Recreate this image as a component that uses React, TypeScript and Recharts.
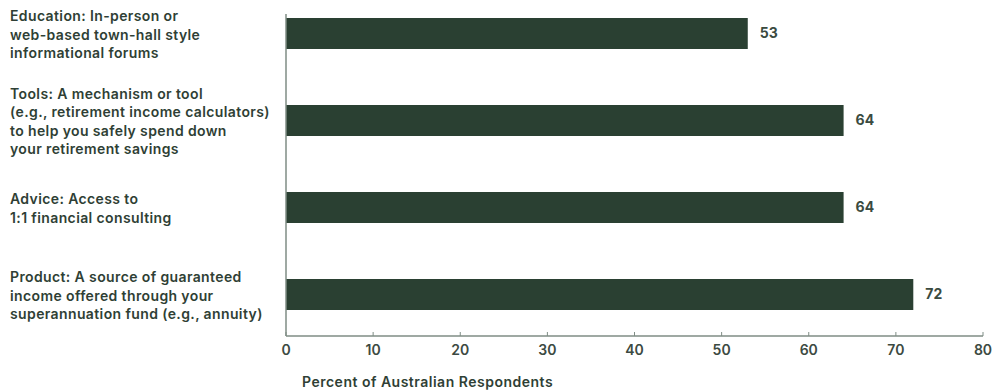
import React from 'react';
import { BarChart, Bar, XAxis, YAxis, LabelList } from 'recharts';

const categories = ['Education', 'Tools', 'Advice', 'Product'];
const categoryLabels: string[][] = [
  ['Education: In-person or', 'web-based town-hall style', 'informational forums'],
  ['Tools: A mechanism or tool', '(e.g., retirement income calculators)', 'to help you safely spend down', 'your retirement savings'],
  ['Advice: Access to', '1:1 financial consulting'],
  ['Product: A source of guaranteed', 'income offered through your', 'superannuation fund (e.g., annuity)'],
];
const values = [53, 64, 64, 72];
const xTicks = [0, 10, 20, 30, 40, 50, 60, 70, 80];
const axisTitle = 'Percent of Australian Respondents';

const data = categories.map((c, i) => ({ name: c, value: values[i] }));

const FONT = 'Inter, "Noto Sans", sans-serif';
const TEXT = '#2f3f35';
const BAR = '#2a4032';
const AXIS = '#7f8d85';

const CategoryTick = (props: any) => {
  const { y, payload } = props;
  const idx = categories.indexOf(payload.value);
  const lines = categoryLabels[idx] || [String(payload.value)];
  const lh = 18.5;
  const start = -((lines.length - 1) * lh) / 2 + 1;
  return (
    <text x={2} y={y} fill={TEXT} fontSize={14} fontWeight={600} fontFamily={FONT} letterSpacing={0.38} textAnchor="start">
      {lines.map((l, i) => (
        <tspan key={i} x={2} y={y + start + i * lh} dy="0.36em">
          {l}
        </tspan>
      ))}
    </text>
  );
};

const AxisTitle = (props: any) => {
  const vb = props.viewBox || {};
  return (
    <text x={vb.x + 16} y={vb.y + 51} fill={TEXT} fontSize={14} fontWeight={600} fontFamily={FONT} letterSpacing={0.5} textAnchor="start">
      {axisTitle}
    </text>
  );
};

export default function App() {
  return (
    <div style={{ position: 'absolute', left: 8, top: 0, width: 987, height: 392 }}>
      <BarChart
        width={987}
        height={392}
        data={data}
        layout="vertical"
        margin={{ top: 14, right: 12, left: 0, bottom: 26 }}
      >
        <XAxis
          type="number"
          domain={[0, 80]}
          ticks={xTicks}
          interval={0}
          height={30}
          axisLine={{ stroke: AXIS, strokeWidth: 1.5 }}
          tickLine={{ stroke: AXIS, strokeWidth: 1 }}
          tickSize={-4}
          tickMargin={13}
          tick={{ fill: '#3c4a42', fontSize: 14, fontWeight: 600, fontFamily: FONT }}
          label={<AxisTitle />}
        />
        <YAxis
          type="category"
          dataKey="name"
          width={278}
          padding={{ top: -24, bottom: -2 }}
          axisLine={{ stroke: AXIS, strokeWidth: 1.5 }}
          tickLine={false}
          tick={<CategoryTick />}
        />
        <Bar dataKey="value" fill={BAR} barSize={31} isAnimationActive={false}>
          <LabelList
            dataKey="value"
            position="right"
            offset={12}
            fill="#3a4a40"
            fontSize={14}
            fontWeight={700}
            fontFamily={FONT}
          />
        </Bar>
      </BarChart>
    </div>
  );
}
